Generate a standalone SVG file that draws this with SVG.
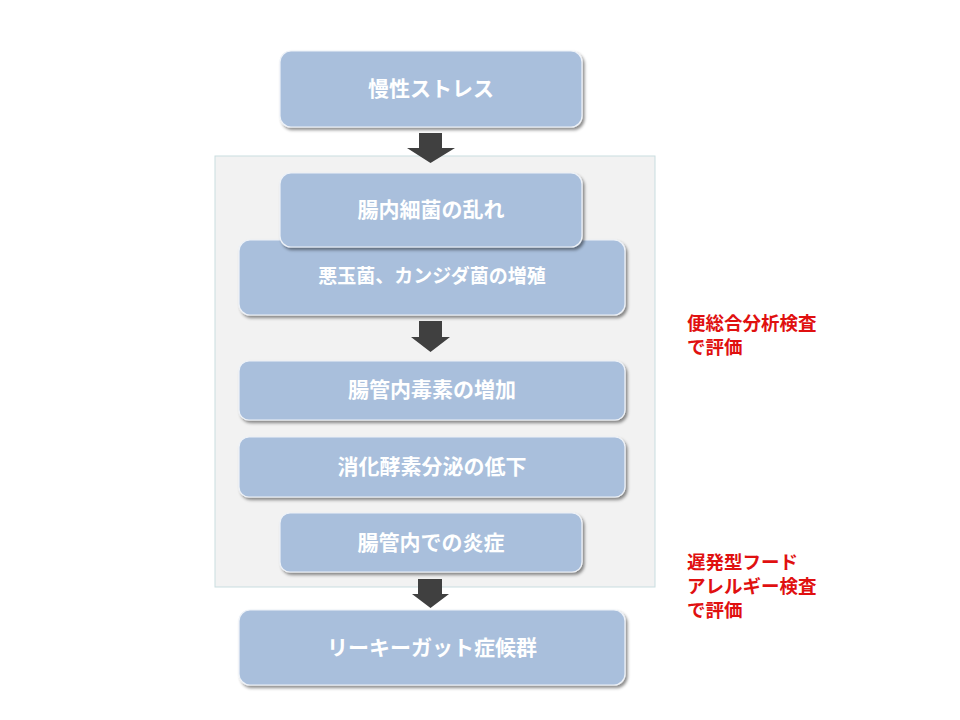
<svg xmlns="http://www.w3.org/2000/svg" width="960" height="720" viewBox="0 0 960 720">
<defs>
<filter id="sh" x="-10%" y="-20%" width="125%" height="150%">
<feDropShadow dx="2" dy="2.5" stdDeviation="1.5" flood-color="#000" flood-opacity="0.45"/>
</filter>
<style>
.box{fill:#a9bfdc;stroke:#eef2f8;stroke-width:1.2;filter:url(#sh)}
.lbl{font-family:"Noto Sans CJK JP","Noto Sans",sans-serif;font-weight:bold;fill:#ffffff;text-anchor:middle;font-size:21px}
.note{font-family:"Noto Sans CJK JP","Noto Sans",sans-serif;font-weight:bold;fill:#e01010;font-size:18.5px}
.arr{fill:#404040}
</style>
</defs>
<rect width="960" height="720" fill="#ffffff"/>
<g id="container">
<rect x="215" y="156" width="440" height="431" fill="#f2f2f2" stroke="#c9dde0" stroke-width="1"/>
</g>
<g id="connectors">
<polygon class="arr" points="419,133 442,133 442,148 455,148 430.5,163 407,148 419,148"/>
<polygon class="arr" points="419,321 442,321 442,337 450,337 430.5,352 411,337 419,337"/>
<polygon class="arr" points="418,579 442,579 442,594 449,594 430.5,608 412,594 418,594"/>
</g>
<g id="n1">
<rect class="box" x="280" y="51" width="302" height="76" rx="11"/>
<text class="lbl" x="431" y="96">慢性ストレス</text>
</g>
<g id="n3">
<rect class="box" x="239" y="240" width="386" height="75" rx="11"/>
<text class="lbl" x="432" y="283" style="font-size:19px">悪玉菌、カンジダ菌の増殖</text>
</g>
<g id="n2">
<rect class="box" x="280" y="173" width="302" height="74" rx="11"/>
<text class="lbl" x="431" y="217">腸内細菌の乱れ</text>
</g>
<g id="n4">
<rect class="box" x="239" y="361" width="386" height="59" rx="10"/>
<text class="lbl" x="432" y="397">腸管内毒素の増加</text>
</g>
<g id="n5">
<rect class="box" x="239" y="437" width="386" height="60" rx="10"/>
<text class="lbl" x="432" y="474">消化酵素分泌の低下</text>
</g>
<g id="n6">
<rect class="box" x="280" y="513" width="302" height="59" rx="10"/>
<text class="lbl" x="431" y="550">腸管内での炎症</text>
</g>
<g id="n7">
<rect class="box" x="239" y="610" width="386" height="75" rx="11"/>
<text class="lbl" x="432" y="655">リーキーガット症候群</text>
</g>
<g id="note1">
<text class="note" x="687" y="330"><tspan x="687" y="330">便総合分析検査</tspan><tspan x="687" y="354">で評価</tspan></text>
</g>
<g id="note2">
<text class="note" x="687" y="569"><tspan x="687" y="569">遅発型フード</tspan><tspan x="687" y="593">アレルギー検査</tspan><tspan x="687" y="617">で評価</tspan></text>
</g>
</svg>
